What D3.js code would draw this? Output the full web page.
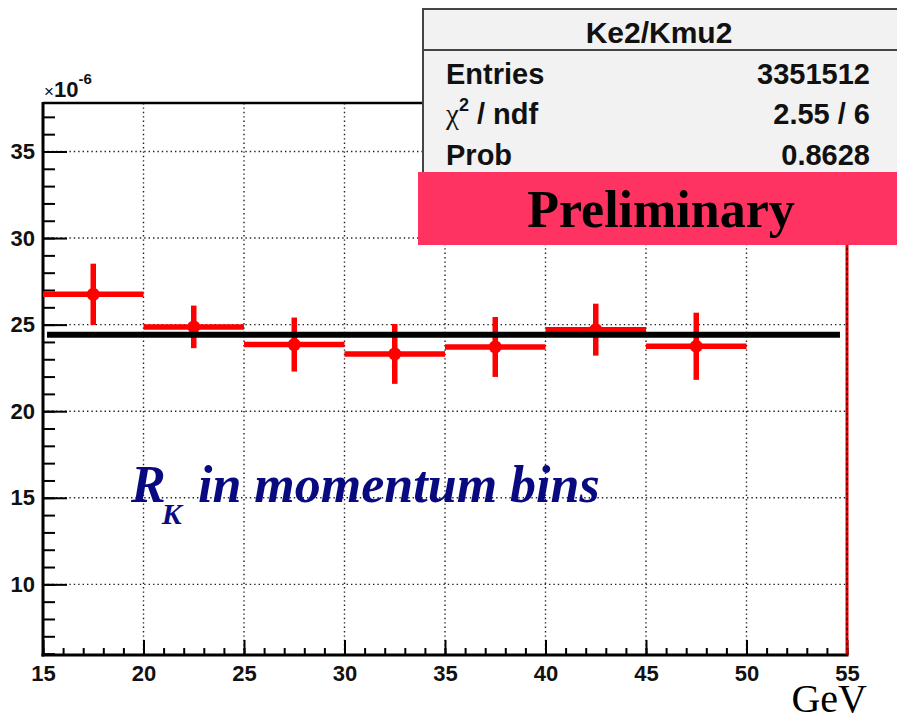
<!DOCTYPE html>
<html>
<head>
<meta charset="utf-8">
<script src="https://cdn.jsdelivr.net/npm/d3@7"></script>
<style>
html,body{margin:0;padding:0;background:#fff;}
svg{display:block;}
</style>
</head>
<body>
<svg id="chart" width="897" height="721"></svg>
<script>
// ---- data ----
const binLow = [15, 20, 25, 30, 35, 40, 45];
const binHigh = [20, 25, 30, 35, 40, 45, 50];
const binCenter = [17.5, 22.5, 27.5, 32.5, 37.5, 42.5, 47.5];
const ratioValues = [26.75, 24.87, 23.85, 23.31, 23.71, 24.71, 23.75];
const ratioErrors = [1.77, 1.23, 1.56, 1.73, 1.73, 1.50, 1.94];
const fitValue = 24.42;
const fitRange = [15.2, 54.65];
const xMajorTicks = [15, 20, 25, 30, 35, 40, 45, 50, 55];
const yMajorTicks = [10, 15, 20, 25, 30, 35];
const statLabels = ["Entries", "χ2 / ndf", "Prob"];
const statValues = ["3351512", "2.55 / 6", "0.8628"];

const svg = d3.select("#chart");
const L = 43, R = 847, T = 103, B = 655;
const x = d3.scaleLinear().domain([15, 55]).range([L, R]);
const y = d3.scaleLinear().domain([5.92, 37.8]).range([B, T]);

// grid
const grid = svg.append("g");
grid.selectAll(".gx").data(xMajorTicks.filter(d => d > 15 && d < 55)).enter().append("line")
  .attr("x1", d => x(d)).attr("x2", d => x(d)).attr("y1", T).attr("y2", B)
  .attr("stroke", "#222").attr("stroke-width", 1.4).attr("stroke-dasharray", "1.4,3");
grid.selectAll(".gy").data(yMajorTicks).enter().append("line")
  .attr("x1", L).attr("x2", R).attr("y1", d => y(d)).attr("y2", d => y(d))
  .attr("stroke", "#222").attr("stroke-width", 1.4).attr("stroke-dasharray", "1.4,3");

// axes
const fontAx = "'Liberation Sans', Arial, sans-serif";
const yMinor = d3.range(6, 38, 1);
const xMinor = d3.range(15, 56, 1);
const gyMin = svg.append("g").attr("transform", `translate(${L},0)`)
  .call(d3.axisLeft(y).tickValues(yMinor).tickSize(-12).tickFormat(""));
const gy = svg.append("g").attr("transform", `translate(${L},0)`)
  .call(d3.axisLeft(y).tickValues(yMajorTicks).tickSize(-24).tickPadding(8).tickFormat(d3.format("d")));
const gxMin = svg.append("g").attr("transform", `translate(0,${B})`)
  .call(d3.axisBottom(x).tickValues(xMinor).tickSize(-7).tickFormat(""));
const gx = svg.append("g").attr("transform", `translate(0,${B})`)
  .call(d3.axisBottom(x).tickValues(xMajorTicks).tickSize(-15).tickPadding(10).tickFormat(d3.format("d")));
[gyMin, gy, gxMin, gx].forEach(g => {
  g.select(".domain").remove();
  g.selectAll(".tick line").attr("stroke", "#000").attr("stroke-width", 2);
  g.selectAll("text").attr("font-family", fontAx).attr("font-weight", "bold")
    .attr("font-size", 22).attr("fill", "#111");
});

// frame
svg.append("line").attr("x1", L).attr("x2", L).attr("y1", T - 1).attr("y2", B + 1.5)
  .attr("stroke", "#000").attr("stroke-width", 3);
svg.append("line").attr("x1", L - 1.5).attr("x2", R + 1.5).attr("y1", B).attr("y2", B)
  .attr("stroke", "#000").attr("stroke-width", 3);
svg.append("line").attr("x1", L).attr("x2", 425).attr("y1", T).attr("y2", T)
  .attr("stroke", "#000").attr("stroke-width", 2.5);
svg.append("line").attr("x1", R).attr("x2", R).attr("y1", T).attr("y2", B)
  .attr("stroke", "#e00000").attr("stroke-width", 3);
svg.append("line").attr("x1", R).attr("x2", R).attr("y1", T).attr("y2", B)
  .attr("stroke", "#000").attr("stroke-width", 1).attr("stroke-dasharray", "2,3");

// data points
const pts = svg.append("g");
const idx = d3.range(ratioValues.length);
pts.selectAll(".h").data(idx).enter().append("line")
  .attr("x1", i => x(binLow[i])).attr("x2", i => x(binHigh[i]))
  .attr("y1", i => y(ratioValues[i])).attr("y2", i => y(ratioValues[i]))
  .attr("stroke", "#ff0000").attr("stroke-width", 5.5);
pts.selectAll(".v").data(idx).enter().append("line")
  .attr("x1", i => x(binCenter[i])).attr("x2", i => x(binCenter[i]))
  .attr("y1", i => y(ratioValues[i] + ratioErrors[i])).attr("y2", i => y(ratioValues[i] - ratioErrors[i]))
  .attr("stroke", "#ff0000").attr("stroke-width", 5.5);
pts.selectAll(".m").data(idx).enter().append("circle")
  .attr("cx", i => x(binCenter[i])).attr("cy", i => y(ratioValues[i])).attr("r", 6.5)
  .attr("fill", "#ff0000");

// fit line
svg.append("line").attr("x1", x(fitRange[0])).attr("x2", x(fitRange[1]))
  .attr("y1", y(fitValue)).attr("y2", y(fitValue))
  .attr("stroke", "#000").attr("stroke-width", 6);

// exponent label
const ex = svg.append("text").attr("x", 44).attr("y", 97).attr("font-family", fontAx).attr("fill", "#111");
ex.append("tspan").attr("font-size", 17).text("×");
ex.append("tspan").attr("font-size", 22).attr("font-weight", "bold").text("10");
ex.append("tspan").attr("font-size", 15).attr("font-weight", "bold").attr("dy", -13).text("-6");

// stats box
svg.append("rect").attr("x", 423).attr("y", 9).attr("width", 480).attr("height", 200)
  .attr("fill", "#f2f2f2").attr("stroke", "#444").attr("stroke-width", 2);
svg.append("line").attr("x1", 423).attr("x2", 897).attr("y1", 50).attr("y2", 50)
  .attr("stroke", "#444").attr("stroke-width", 2);
svg.append("text").attr("x", 659).attr("y", 43).attr("text-anchor", "middle")
  .attr("font-family", fontAx).attr("font-weight", "bold").attr("font-size", 30).attr("fill", "#111")
  .text("Ke2/Kmu2");
const rowY = [84, 124, 165];
statLabels.forEach((lab, i) => {
  const t = svg.append("text").attr("x", 446).attr("y", rowY[i])
    .attr("font-family", fontAx).attr("font-weight", "bold").attr("font-size", 29).attr("fill", "#111");
  if (i === 1) {
    t.append("tspan").attr("font-family", "'Liberation Serif', serif").attr("font-weight", "normal").text("χ");
    t.append("tspan").attr("font-size", 18).attr("dy", -13).text("2");
    t.append("tspan").attr("dy", 13).text(" / ndf");
  } else {
    t.text(lab);
  }
  svg.append("text").attr("x", 870).attr("y", rowY[i]).attr("text-anchor", "end")
    .attr("font-family", fontAx).attr("font-weight", "bold").attr("font-size", 29).attr("fill", "#111")
    .text(statValues[i]);
});

// preliminary band
svg.append("rect").attr("x", 418).attr("y", 172).attr("width", 479).attr("height", 73)
  .attr("fill", "#ff3362");
svg.append("text").attr("x", 661).attr("y", 227).attr("text-anchor", "middle")
  .attr("font-family", "'Liberation Serif', 'Times New Roman', serif").attr("font-weight", "bold")
  .attr("font-size", 52).attr("fill", "#000").text("Preliminary");

// annotation
const ann = svg.append("text").attr("x", 131).attr("y", 502)
  .attr("font-family", "'Liberation Serif', 'Times New Roman', serif").attr("font-weight", "bold")
  .attr("font-style", "italic").attr("fill", "#0a0a80");
ann.append("tspan").attr("font-size", 52).text("R");
ann.append("tspan").attr("font-size", 30).attr("dy", 22).attr("dx", -4).text("K");
ann.append("tspan").attr("font-size", 52).attr("dy", -22).attr("x", 198).text("in momentum bins");

// x unit
svg.append("text").attr("x", 867).attr("y", 712).attr("text-anchor", "end")
  .attr("font-family", "'Liberation Serif', 'Times New Roman', serif")
  .attr("font-size", 40).attr("fill", "#000").text("GeV");
</script>
</body>
</html>
